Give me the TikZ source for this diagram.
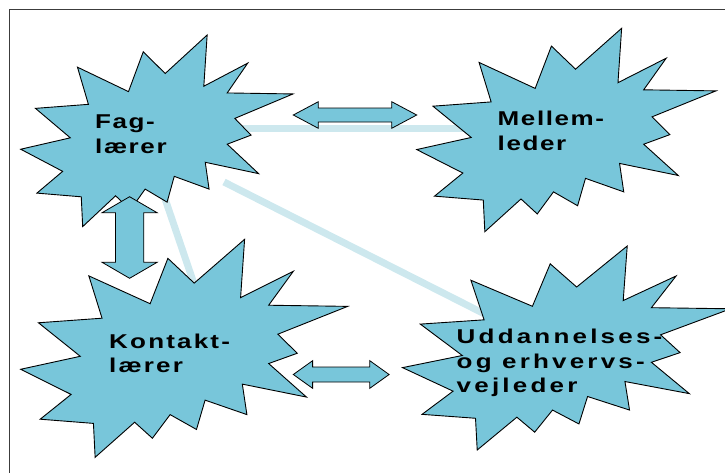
\documentclass[tikz,border=0pt]{standalone}
\usepackage{fontspec}
\setmainfont{Liberation Sans}
\newfontfamily\lblfont[FakeStretch=1.3, LetterSpace=8]{Liberation Sans Bold}
\newfontfamily\lblmidfont[FakeStretch=1.3, LetterSpace=11]{Liberation Sans Bold}
\newfontfamily\lblwidefont[FakeStretch=1.3, LetterSpace=16]{Liberation Sans Bold}
\definecolor{burstfill}{RGB}{120,198,218}
\definecolor{linkline}{RGB}{205,232,238}
\definecolor{framegray}{RGB}{60,60,60}

% irregular "explosion" outline, in a 100 x 100 box anchored at its top-left corner
\newcommand\burstshape[4]{%
  \begin{scope}[shift={(#1,#2)}, xscale=#3/100, yscale=#4/100]
    \draw[burst] (53.065,20.102) -- (68.472,0) -- (67.245,26.745) -- (83.366,14.685)
      -- (75.833,30.241) -- (100,30.764) -- (78.634,43.528) -- (84.583,52.269)
      -- (75.833,56.991) -- (87.394,72.370) -- (67.778,66.435) -- (69.176,80.417)
      -- (56.389,73.773) -- (53.759,87.231) -- (45.704,80.417) -- (40.278,91.259)
      -- (34.847,83.912) -- (22.764,100) -- (22.245,84.444) -- (5.949,82.523)
      -- (15.417,71.157) -- (0,59.616) -- (18.218,53.667) -- (5.426,38.287)
      -- (24.870,36.190) -- (20.843,16.782) -- (39.583,29.546) -- (45.009,8.736)
      -- cycle;
  \end{scope}}

\tikzset{
  burst/.style={draw=black, line width=0.9pt, fill=burstfill, line join=miter},
  blockarrow/.style={draw=black, line width=0.8pt, fill=burstfill},
  link/.style={draw=linkline, line width=7pt},
  lbl/.style={anchor=base west, inner sep=0pt, align=left,
    font=\lblfont\fontsize{20}{24.4}\selectfont},
  lblmid/.style={lbl, font=\lblmidfont\fontsize{20}{24.4}\selectfont},
  lblwide/.style={lbl, font=\lblwidefont\fontsize{20}{24.4}\selectfont},
}

\begin{document}
\begin{tikzpicture}[x=1pt, y=-1pt]
  \useasboundingbox (0,0) rectangle (725,472);
  \clip (0,0) rectangle (725,472);

  % frame
  \draw[framegray, line width=1pt] (9,9) rectangle (760,500);

  % link end points
  \coordinate (fagE) at (230,128.5);
  \coordinate (melW) at (478,128.5);
  \coordinate (fagS) at (161.6,188.7);
  \coordinate (konN) at (196.7,291.7);
  \coordinate (fagSE) at (224,182);
  \coordinate (uddNW) at (490,316.7);

  % light links, lying under the bursts
  \draw[link] (fagE) -- (melW);
  \draw[link] (fagS) -- (konN);
  \draw[link] (fagSE) -- (uddNW);

  % bursts
  \burstshape{20.7}{35}{272.3}{191.6}
  \burstshape{416.7}{28.3}{299.3}{203.4}
  \burstshape{20.7}{239.3}{327}{218}
  \burstshape{402.5}{246}{328.2}{204}

  % double block arrows
  \coordinate (arrTop) at (355,115);
  \coordinate (arrLeft) at (129.6,237.5);
  \coordinate (arrBot) at (341.2,374.5);

  \begin{scope}[shift={(arrTop)}]
    \draw[blockarrow] (-61.7,0) -- (-36.7,-13.3) -- (-36.7,-7) -- (36.7,-7)
      -- (36.7,-13.3) -- (61.7,0) -- (36.7,13.3) -- (36.7,7) -- (-36.7,7)
      -- (-36.7,13.3) -- cycle;
  \end{scope}
  \begin{scope}[shift={(arrBot)}]
    \draw[blockarrow] (-47.9,0) -- (-28.6,-13.8) -- (-28.6,-7.5) -- (28.6,-7.5)
      -- (28.6,-13.8) -- (47.9,0) -- (28.6,13.8) -- (28.6,7.5) -- (-28.6,7.5)
      -- (-28.6,13.8) -- cycle;
  \end{scope}
  \begin{scope}[shift={(arrLeft)}]
    \draw[blockarrow] (0,-40.8) -- (27.5,-24.8) -- (14.2,-24.8) -- (14.2,24.8)
      -- (27.5,24.8) -- (0,40.8) -- (-27.5,24.8) -- (-14.2,24.8) -- (-14.2,-24.8)
      -- (-27.5,-24.8) -- cycle;
  \end{scope}

  % labels (anchored on the baseline of their last line)
  \node[lbl] (fag) at (95,153.3) {Fag-\\lærer};
  \node[lbl] (mel) at (497.5,150) {Mellem-\\leder};
  \node[lblmid] (kon) at (109,372.7) {Kontakt-\\lærer};
  \node[lblwide] (udd) at (456.5,392.7) {Uddannelses-\\og erhvervs-\\vejleder};
\end{tikzpicture}
\end{document}
